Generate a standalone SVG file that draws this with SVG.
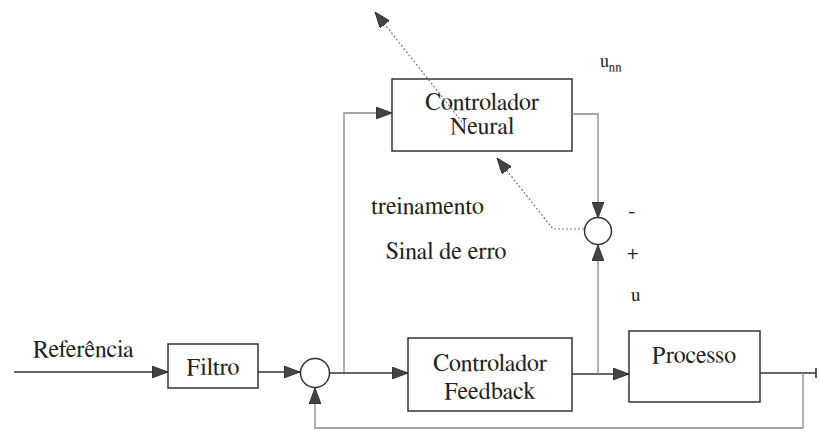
<svg xmlns="http://www.w3.org/2000/svg" width="819" height="431" viewBox="0 0 819 431">
<defs>
<marker id="ah" viewBox="0 0 16 12" refX="16" refY="6" markerWidth="16" markerHeight="12" markerUnits="userSpaceOnUse" orient="auto">
<path d="M0,0 L16,6 L0,12 Z" fill="#444" stroke="#222" stroke-width="0.8"/>
</marker>
</defs>
<style>
text{font-family:FreeSerif,serif;fill:#222;font-size:24px}
.box{fill:#fff;stroke:#333;stroke-width:1.5}
.sum{fill:#fff;stroke:#333;stroke-width:1.5}
.ln{fill:none;stroke:#333;stroke-width:1.6}
.lt{fill:none;stroke:#888;stroke-width:1.3}
.dt{fill:none;stroke:#777;stroke-width:1.2;stroke-dasharray:2 2}
.c{text-anchor:middle}
</style>
<rect width="819" height="431" fill="#fff"/>
<g id="filtro"><rect class="box" x="168" y="344" width="90" height="44"/><text class="c" x="213" y="375">Filtro</text></g>
<g id="soma1"><circle class="sum" cx="315" cy="373" r="14.5"/></g>
<g id="feedback"><rect class="box" x="408" y="338" width="164" height="73"/><text class="c" x="490" y="371">Controlador</text><text class="c" x="490" y="399">Feedback</text></g>
<g id="processo"><rect class="box" x="629" y="331" width="131" height="71"/><text class="c" x="694" y="363">Processo</text></g>
<g id="neural"><rect class="box" x="392" y="79" width="180" height="72"/><text class="c" x="482" y="110">Controlador</text><text class="c" x="482" y="134">Neural</text></g>
<g id="soma2"><circle class="sum" cx="598" cy="231" r="13.5"/></g>
<g id="connectors">
<line class="ln" x1="14" y1="372" x2="168" y2="372" marker-end="url(#ah)"/>
<line class="ln" x1="258" y1="372" x2="300" y2="372" marker-end="url(#ah)"/>
<line class="ln" x1="330" y1="373" x2="408" y2="373" marker-end="url(#ah)"/>
<polyline class="lt" points="344,373 344,113 392,113" marker-end="url(#ah)"/>
<line class="ln" x1="572" y1="374" x2="629" y2="374" marker-end="url(#ah)"/>
<line class="lt" x1="598" y1="374" x2="598" y2="245" marker-end="url(#ah)"/>
<polyline class="lt" points="572,114 598,114 598,218" marker-end="url(#ah)"/>
<line class="ln" x1="760" y1="373" x2="816" y2="373"/>
<line class="ln" x1="816" y1="368" x2="816" y2="378"/>
<polyline class="lt" points="803,373 803,428 315,428 315,388" marker-end="url(#ah)"/>
<polyline class="dt" points="584,229 553,229 497,158" marker-end="url(#ah)"/>
<line class="dt" x1="462" y1="122" x2="375" y2="12" marker-end="url(#ah)"/>
</g>
<g id="labels">
<text x="33" y="357">Referência</text>
<text x="371" y="214">treinamento</text>
<text x="386" y="259">Sinal de erro</text>
<text x="600" y="67" style="font-size:18px">u<tspan dy="4" style="font-size:13px">nn</tspan></text>
<text x="628" y="217" style="font-size:22px">-</text>
<text x="627" y="259" style="font-size:20px">+</text>
<text x="631" y="301" style="font-size:19px">u</text>
</g>
</svg>
